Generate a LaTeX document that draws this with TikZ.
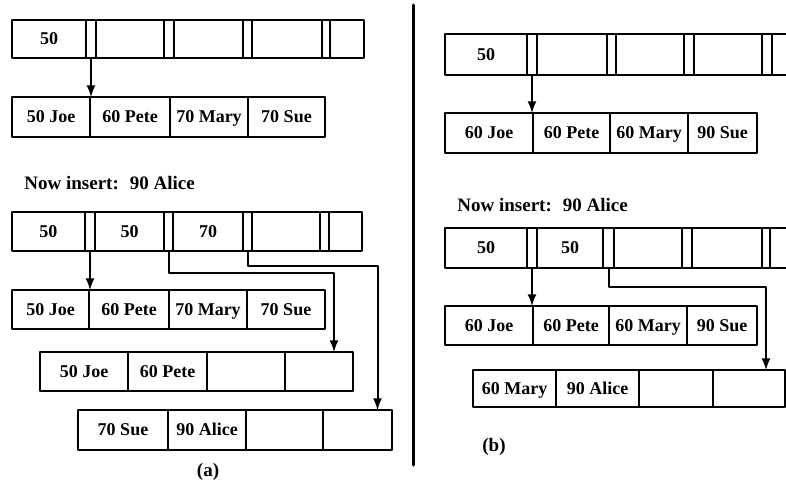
\documentclass[tikz,border=0pt]{standalone}
\usepackage{fontspec}
\setmainfont{Liberation Serif}
\begin{document}
\begin{tikzpicture}[x=0.5pt,y=-0.5pt,line cap=round,line join=round,>=latex,
    cell/.style={draw,rectangle,line width=0.9pt,inner sep=0pt,outer sep=0pt,
      text height=1.5ex,text depth=0.3ex,
      anchor=north west,font=\fontsize{9}{10}\selectfont\bfseries},
    ptr/.style={line width=1pt,->},
    caption/.style={inner sep=1pt,font=\fontsize{9.5}{11}\selectfont\bfseries}]
  \path[use as bounding box,clip] (0,0) rectangle (786,481);
  % (a) before the insert
  \foreach \x/\w/\n/\t in {12/74/k1/50,86/10/p1/{},96/68/k2/{},164/10/p2/{},174/69/k3/{},
      243/9/p3/{},252/70/k4/{},322/8/p4/{},330/34/k5/{}}
    \node[cell,minimum width=\w*0.5pt,minimum height=19pt] (ia\n) at (\x,20) {\t};
  \foreach \x/\w/\n/\t in {12/78/a/50 Joe,90/80/b/60 Pete,170/78/c/70 Mary,248/77/d/70 Sue}
    \node[cell,minimum width=\w*0.5pt,minimum height=20pt] (la\n) at (\x,97) {\t};
  \draw[ptr] (iap1.south) -- (iap1.south |- laa.north);
  \node[caption,anchor=west] (insa) at (22,183) {Now insert:~ 90 Alice};
  % (a) after the insert
  \foreach \x/\w/\n/\t in {12/73/k1/50,85/10/p1/{},95/69/k2/50,164/9/p2/{},173/70/k3/70,
      243/9/p3/{},252/68/k4/{},320/9/p4/{},329/33/k5/{}}
    \node[cell,minimum width=\w*0.5pt,minimum height=19.5pt] (ib\n) at (\x,212) {\t};
  \foreach \x/\w/\n/\t in {12/77/a/50 Joe,89/80/b/60 Pete,169/78/c/70 Mary,247/78/d/70 Sue}
    \node[cell,minimum width=\w*0.5pt,minimum height=19.5pt] (lb\n) at (\x,290) {\t};
  \foreach \x/\w/\n/\t in {40/88/a/50 Joe,128/79/b/60 Pete,207/78/c/{},285/68/d/{}}
    \node[cell,minimum width=\w*0.5pt,minimum height=19.5pt] (lc\n) at (\x,352) {\t};
  \foreach \x/\w/\n/\t in {78/90/a/70 Sue,168/78/b/90 Alice,246/77/c/{},323/69/d/{}}
    \node[cell,minimum width=\w*0.5pt,minimum height=20pt] (ld\n) at (\x,410) {\t};
  \draw[ptr] (ibp1.south) -- (ibp1.south |- lba.north);
  \draw[ptr] (ibp2.south) -- ++(0,22) -| ([xshift=7.5pt]lcd.north);
  \draw[ptr] (ibp3.south) -- ++(0,15) -| ([xshift=10pt]ldd.north);
  \node[caption] (capa) at (208,472) {(a)};
  \draw[line width=1.5pt] (413,5) -- (413,465);
  % (b) before the insert
  \foreach \x/\w/\n/\t in {445/82/k1/50,527/10/p1/{},537/70/k2/{},607/9/p2/{},616/68/k3/{},
      684/10/p3/{},694/68/k4/{},762/10/p4/{},772/40/k5/{}}
    \node[cell,minimum width=\w*0.5pt,minimum height=20.5pt] (ic\n) at (\x,34) {\t};
  \foreach \x/\w/\n/\t in {445/88/a/60 Joe,533/77/b/60 Pete,610/78/c/60 Mary,688/69/d/90 Sue}
    \node[cell,minimum width=\w*0.5pt,minimum height=20pt] (le\n) at (\x,113) {\t};
  \draw[ptr] (icp1.south) -- (icp1.south |- lea.north);
  \node[caption,anchor=west] (insb) at (455,205) {Now insert:~ 90 Alice};
  % (b) after the insert
  \foreach \x/\w/\n/\t in {445/82/k1/50,527/10/p1/{},537/66/k2/50,603/11/p2/{},614/68/k3/{},
      682/10/p3/{},692/70/k4/{},762/8/p4/{},770/40/k5/{}}
    \node[cell,minimum width=\w*0.5pt,minimum height=20pt] (id\n) at (\x,228) {\t};
  \foreach \x/\w/\n/\t in {445/88/a/60 Joe,533/76/b/60 Pete,609/78/c/60 Mary,687/70/d/90 Sue}
    \node[cell,minimum width=\w*0.5pt,minimum height=19.5pt] (lf\n) at (\x,306) {\t};
  \foreach \x/\w/\n/\t in {473/83/a/60 Mary,556/83/b/90 Alice,639/74/c/{},713/72/d/{}}
    \node[cell,minimum width=\w*0.5pt,minimum height=18.5pt] (lg\n) at (\x,370) {\t};
  \draw[ptr] (idp1.south) -- (idp1.south |- lfa.north);
  \draw[ptr] (idp2.south) -- ++(0,19) -| ([xshift=8.5pt]lgd.north);
  \node[caption] (capb) at (494,447) {(b)};
\end{tikzpicture}
\end{document}
